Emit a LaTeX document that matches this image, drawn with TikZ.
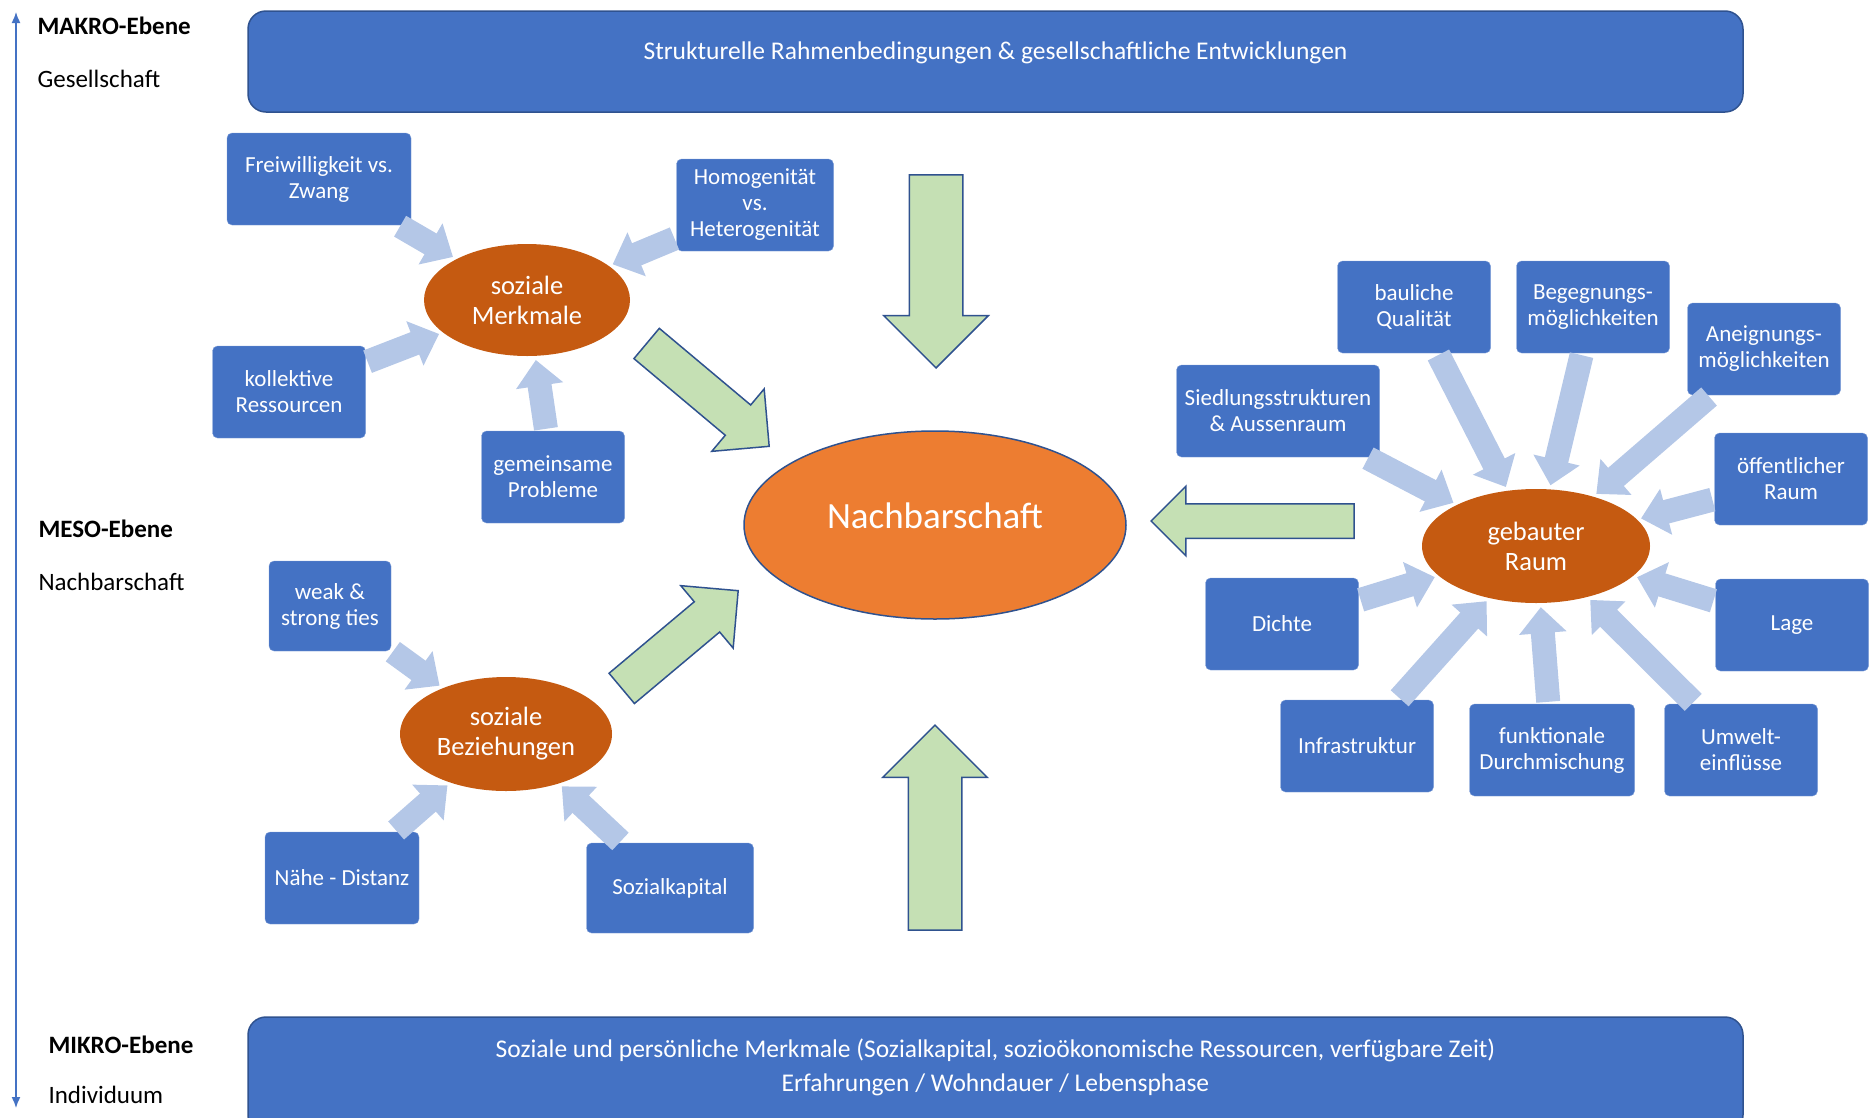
\documentclass[tikz,border=0pt]{standalone}
\usepackage{fontspec}
\setmainfont{Carlito}
\usetikzlibrary{arrows.meta,positioning,shapes.geometric,shapes.arrows}
\definecolor{boxblue}{HTML}{4472C4}
\definecolor{lineblue}{HTML}{2F528F}
\definecolor{lightarr}{HTML}{B4C7E7}
\definecolor{greenarr}{HTML}{C5E0B4}
\definecolor{darkorange}{HTML}{C55A11}
\definecolor{midorange}{HTML}{ED7D31}

\begin{document}
\begin{tikzpicture}[x=1pt,y=-1pt,
    box/.style={fill=boxblue,draw=boxblue!70!white,rounded corners=5pt,minimum width=153pt,minimum height=92pt,align=center,text=white,inner sep=2pt,font=\fontsize{23}{26}\selectfont},
    bar/.style={fill=boxblue,draw=lineblue,line width=1.5pt,rounded corners=18pt,minimum width=1495pt,minimum height=101pt},
    bartxt/.style={align=center,text=white,font=\fontsize{25.5}{34}\selectfont},
    blob/.style={ellipse,fill=darkorange,inner sep=0pt,align=center,text=white,font=\fontsize{26.5}{30}\selectfont},
    lvl/.style={anchor=west,font=\fontsize{25}{30}\selectfont},
    sarr/.style={-{Triangle[length=26pt,width=46pt]},line width=24pt,lightarr,shorten <=2pt,shorten >=4pt},
    garr/.style={single arrow,draw=lineblue,fill=greenarr,line width=1.5pt,inner xsep=0pt,anchor=tip}]
    \useasboundingbox (0,0) rectangle (1872,1117);
    % levels
    \coordinate (axtop) at (16,12); \coordinate (axbot) at (16,1108);
    \draw[boxblue,line width=1.5pt,{Latex[length=11pt,width=9pt]}-{Latex[length=11pt,width=9pt]}] (axtop)--(axbot);
    \node[lvl,font=\fontsize{25}{30}\selectfont\bfseries] (makro) at (34,26) {MAKRO-Ebene};
    \node[lvl] (gesell) at (34,79) {Gesellschaft};
    \node[lvl,font=\fontsize{25}{30}\selectfont\bfseries] (meso) at (35,529) {MESO-Ebene};
    \node[lvl] (nachbl) at (35,582) {Nachbarschaft};
    \node[lvl,font=\fontsize{25}{30}\selectfont\bfseries] (mikro) at (45,1045) {MIKRO-Ebene};
    \node[lvl] (indiv) at (45,1095) {Individuum};
    % bars
    \node[bar] (struktur) at (995.5,61.5) {};
    \node[bartxt] (strukturtxt) at (995.5,53) {Strukturelle Rahmenbedingungen \& gesellschaftliche Entwicklungen};
    \node[bar,minimum height=116pt] (individ) at (995.5,1075) {};
    \node[bartxt] (individtxt) at (995.5,1067) {Soziale und persönliche Merkmale (Sozialkapital, sozioökonomische Ressourcen, verfügbare Zeit)\\Erfahrungen / Wohndauer / Lebensphase};
    % centre
    \node[blob,fill=midorange,draw=lineblue,line width=1.5pt,minimum width=382pt,minimum height=188pt,text depth=19pt,font=\fontsize{37}{44}\selectfont] (nachb) at (935,525) {Nachbarschaft};
    \node[blob,minimum width=206pt,minimum height=112pt] (merkmale) at (527,300) {soziale\\Merkmale};
    \node[blob,minimum width=212pt,minimum height=114pt] (bezieh) at (506,734) {soziale\\Beziehungen};
    \node[blob,minimum width=228pt,minimum height=114pt] (raum) at (1536,546) {gebauter\\Raum};
    % soziale Merkmale
    \node[box,minimum width=184pt] (frei) at (319,179) {Freiwilligkeit vs.\\Zwang};
    \node[box,minimum width=157pt] (homo) at (755,205) {Homogenität\\vs.\\Heterogenität};
    \node[box] (koll) at (289,392) {kollektive\\Ressourcen};
    \node[box,minimum width=143pt] (gemein) at (553,477) {gemeinsame\\Probleme};
    % soziale Beziehungen
    \node[box,minimum width=122pt,minimum height=90pt] (weak) at (330,606) {weak \&\\strong ties};
    \node[box,minimum width=154pt] (naehe) at (342,878) {Nähe - Distanz};
    \node[box,minimum width=167pt,minimum height=90pt] (sozkap) at (670,888) {Sozialkapital};
    % gebauter Raum
    \node[box,minimum width=203pt] (siedl) at (1278,411) {Siedlungsstrukturen\\\& Aussenraum};
    \node[box] (baul) at (1414,307) {bauliche\\Qualität};
    \node[box] (begeg) at (1593,307) {Begegnungs-\\möglichkeiten};
    \node[box] (aneig) at (1764,349) {Aneignungs-\\möglichkeiten};
    \node[box] (oeff) at (1791,479) {öffentlicher\\Raum};
    \node[box] (lage) at (1792,625) {Lage};
    \node[box] (umwelt) at (1741,750) {Umwelt-\\einflüsse};
    \node[box,minimum width=165pt] (funkt) at (1552,750) {funktionale\\Durchmischung};
    \node[box] (infra) at (1357,746) {Infrastruktur};
    \node[box] (dichte) at (1282,624) {Dichte};
    \foreach \b in {frei,homo,koll,gemein} \draw[sarr] (\b)--(merkmale);
    \foreach \b in {weak,naehe,sozkap} \draw[sarr] (\b)--(bezieh);
    \foreach \b in {siedl,baul,begeg,aneig,oeff,lage,umwelt,funkt,infra,dichte} \draw[sarr] (\b)--(raum);
    % block arrows
    \node[garr,rotate=-90,minimum height=193pt,inner ysep=26pt,single arrow head extend=25.5pt] (gtop) at (936,369) {};
    \node[garr,rotate=90,minimum height=205pt,inner ysep=26pt,single arrow head extend=25.5pt] (gbot) at (935,724) {};
    \node[garr,rotate=180,minimum height=203pt,inner ysep=16.5pt,single arrow head extend=17.5pt] (gright) at (1150,521) {};
    \node[garr,rotate=-40,minimum height=160pt,inner ysep=19pt,single arrow head extend=21pt] (gmerk) at (770,447) {};
    \node[garr,rotate=40,minimum height=152pt,inner ysep=19pt,single arrow head extend=21pt] (gbez) at (739,590) {};
  \end{tikzpicture}
\end{document}
